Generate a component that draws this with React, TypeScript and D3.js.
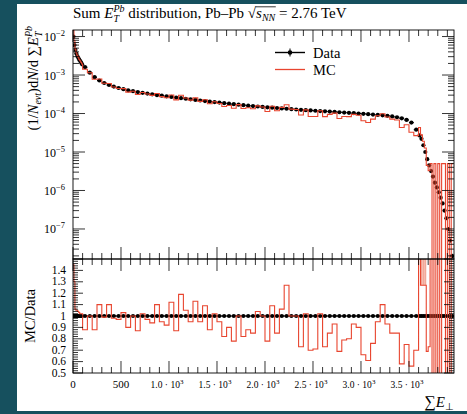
import React, { useRef, useState, useLayoutEffect } from 'react';
import * as d3 from 'd3';

// ---------- data ----------
const binSegments: [number, number, number][] = [
  [0, 100, 10],
  [100, 3600, 50],
  [3600, 3960, 20],
];

const dataLow = [1.0e-2, 6.0e-3, 4.5e-3, 3.6e-3, 3.1e-3, 2.8e-3, 2.5e-3, 2.3e-3, 2.1e-3, 1.9e-3];
const dataMid = [
  1.6e-3, 1.15e-3, 8.8e-4, 7.2e-4, 6.2e-4, 5.5e-4, 5.0e-4, 4.6e-4, 4.3e-4, 4.0e-4,
  3.8e-4, 3.6e-4, 3.45e-4, 3.3e-4, 3.15e-4, 3.0e-4, 2.9e-4, 2.8e-4, 2.7e-4, 2.6e-4,
  2.5e-4, 2.42e-4, 2.34e-4, 2.26e-4, 2.18e-4, 2.1e-4, 2.04e-4, 1.98e-4, 1.92e-4, 1.86e-4,
  1.8e-4, 1.75e-4, 1.7e-4, 1.65e-4, 1.6e-4, 1.56e-4, 1.52e-4, 1.48e-4, 1.45e-4, 1.42e-4,
  1.39e-4, 1.36e-4, 1.33e-4, 1.3e-4, 1.27e-4, 1.25e-4, 1.22e-4, 1.2e-4, 1.18e-4, 1.16e-4,
  1.14e-4, 1.12e-4, 1.1e-4, 1.08e-4, 1.06e-4, 1.04e-4, 1.02e-4, 1.0e-4, 9.8e-5, 9.6e-5,
  9.4e-5, 9.2e-5, 9.0e-5, 8.7e-5, 8.4e-5, 8.0e-5, 7.5e-5, 6.8e-5, 5.8e-5, 3.8e-5,
];
const dataTail = [
  2.7e-5, 2.2e-5, 1.5e-5, 1.0e-5, 6.5e-6, 4.5e-6, 3.2e-6, 2.3e-6, 1.6e-6, 1.2e-6,
  9e-7, 6.5e-7, 4.6e-7, 3e-7, 1.9e-7, 1e-7, 5e-8, 2e-8,
];

// MC / Data ratio
const ratioLow = [1.45, 1.3, 1.06, 1.05, 1.05, 1.04, 1.03, 1.02, 1.02, 1.02];
const ratioMid = [
  0.88, 1.0, 0.88, 1.1, 0.99, 1.1, 0.98, 0.97, 1.03, 0.9,
  1.0, 0.87, 1.02, 0.97, 0.94, 1.1, 0.95, 0.92, 1.12, 0.87,
  1.19, 1.05, 0.95, 1.13, 0.95, 1.09, 0.88, 1.02, 0.95, 0.82,
  0.9, 0.78, 1.0, 0.82, 0.88, 0.85, 1.04, 1.0, 0.78, 1.09,
  0.85, 1.06, 1.27, 1.0, 1.0, 0.73, 1.02, 0.7, 0.71, 1.02,
  0.73, 0.85, 0.93, 0.69, 0.79, 0.8, 0.93, 0.9, 0.66, 0.61,
  0.76, 0.95, 1.1, 0.93, 0.85, 0.85, 0.58, 0.75, 0.56, 0.7,
];
const ratioTail = [1.6, 1.27, 1.27, 1.27, 0.69, 0.73];
// upper MC uncertainty (ratio units) for the first tail bins, drawn as a band
const ratioTailBandTop = [1.6, 1.6, 1.6, 1.6, 0, 0];
// MC values for the last, statistics-starved bins (3720 .. 3960)
const mcTail = [5e-6, 0, 5e-6, 0, 5e-6, 0, 5e-6, 5e-6, 0, 5e-6, 0, 5e-6];

const xMajorTicks = [0, 500, 1000, 1500, 2000, 2500, 3000, 3500];
const xTickLabels = ['0', '500', '1.0', '1.5', '2.0', '2.5', '3.0', '3.5'];
const yDecades = [-7, -6, -5, -4, -3, -2];
const ratioLabels = [0.5, 0.6, 0.7, 0.8, 0.9, 1.0, 1.1, 1.2, 1.3, 1.4];
const ratioLabelText = ['0.5', '0.6', '0.7', '0.8', '0.9', '1', '1.1', '1.2', '1.3', '1.4'];

// ---------- layout ----------
const W = 467, H = 414;
const L = 73, R = 454;
const T = 30, MID = 259, B = 373;
const RED = '#e8452f';
const SERIF = "'Liberation Serif', 'Times New Roman', serif";

export default function App() {
  const sqrtRef = useRef<SVGTSpanElement>(null);
  const nnRef = useRef<SVGTSpanElement>(null);
  const [ovl, setOvl] = useState<{ x1: number; x2: number } | null>(null);

  useLayoutEffect(() => {
    const a = sqrtRef.current, b = nnRef.current;
    if (a && b) {
      try {
        const ea = a.getExtentOfChar(0);
        const n = b.getNumberOfChars();
        const eb = b.getExtentOfChar(n - 1);
        setOvl({ x1: ea.x + ea.width - 0.5, x2: eb.x + eb.width + 0.5 });
      } catch (e) {}
    }
  }, []);

  const edges: number[] = [];
  binSegments.forEach(([a, b, w]) => {
    for (let v = a; v < b - 1e-9; v += w) edges.push(v);
  });
  edges.push(binSegments[binSegments.length - 1][1]);
  const dataVals = [...dataLow, ...dataMid, ...dataTail];
  const ratioVals = [...ratioLow, ...ratioMid, ...ratioTail];
  const nb = dataVals.length;
  const mc = dataVals.map((d, i) => (i < ratioVals.length ? d * ratioVals[i] : mcTail[i - ratioVals.length]));
  const mcRatio = mc.map((m, i) => m / dataVals[i]);
  const tailStart = dataLow.length + dataMid.length;

  const x = d3.scaleLinear().domain([0, 3969]).range([L, R]);
  const yMain = d3.scaleLog().domain([Math.pow(10, -7.78), Math.pow(10, -1.83)]).range([MID, T]);
  const yRat = d3.scaleLinear().domain([0.5, 1.5]).range([B, MID]);

  const yM = (v: number) => (v > 0 ? yMain(v) : MID + 30);
  const yR = (v: number) => Math.max(MID - 30, Math.min(B + 30, yRat(v)));

  let mcPath = '';
  let mcRPath = '';
  for (let i = 0; i < nb; i++) {
    const x0 = x(edges[i]), x1 = x(edges[i + 1]);
    const ym = yM(mc[i]);
    const yr = yR(mcRatio[i]);
    mcPath += (i === 0 ? `M${x0},${ym}` : `V${ym}`) + `H${x1}`;
    mcRPath += (i === 0 ? `M${x0},${yr}` : `V${yr}`) + `H${x1}`;
  }

  // ticks
  const xMinor = d3.range(0, 3969, 100).filter((v) => v % 500 !== 0);
  const yMinor: number[] = [];
  for (let dcd = -8; dcd <= -2; dcd++) {
    for (let k = 2; k <= 9; k++) {
      const v = k * Math.pow(10, dcd);
      if (yMain(v) >= T && yMain(v) <= MID) yMinor.push(v);
    }
  }
  const rMajor = d3.range(0.5, 1.501, 0.1);
  const rMinor = d3.range(0.5, 1.501, 0.02).filter((v) => Math.abs(Math.round(v * 10) - v * 10) > 0.01);

  const MJ = 12, MN = 6;
  const tk = { stroke: '#000', strokeWidth: 0.8 };

  return (
    <svg width={W} height={H} style={{ position: 'absolute', left: 0, top: 0 }} xmlns="http://www.w3.org/2000/svg">
      <defs>
        <clipPath id="clipMain"><rect x={L} y={T} width={R - L} height={MID - T} /></clipPath>
        <clipPath id="clipRat"><rect x={L} y={MID} width={R - L} height={B - MID} /></clipPath>
      </defs>
      <rect x={0} y={0} width={W} height={H} fill="#16505e" />
      <rect x={17} y={4} width={W - 17} height={407} fill="#fff" />

      {/* ---- title ---- */}
      <text x={L} y={18} fontFamily={SERIF} fontSize={15} fill="#000">
        <tspan>Sum </tspan>
        <tspan fontStyle="italic">E</tspan>
        <tspan fontStyle="italic" fontSize={10} dy={4}>T</tspan>
        <tspan fontStyle="italic" fontSize={10} dx={-5.6} dy={-10}>Pb</tspan>
        <tspan dy={6}> distribution, Pb–Pb </tspan>
        <tspan ref={sqrtRef}>√</tspan>
        <tspan fontStyle="italic">s</tspan>
        <tspan ref={nnRef} fontStyle="italic" fontSize={10} dy={3}>NN</tspan>
        <tspan dy={-3}> = 2.76 TeV</tspan>
      </text>
      {ovl && <line x1={ovl.x1} x2={ovl.x2} y1={6.8} y2={6.8} stroke="#000" strokeWidth={0.8} />}

      {/* ---- main panel: data ---- */}
      <g clipPath="url(#clipMain)">
        {dataVals.map((d, i) => (
          <line key={'dl' + i} x1={x(edges[i])} x2={x(edges[i + 1])} y1={yMain(d)} y2={yMain(d)} stroke="#000" strokeWidth={1.2} />
        ))}
        {dataVals.map((d, i) => (
          <circle key={'dc' + i} cx={x((edges[i] + edges[i + 1]) / 2)} cy={yMain(d)} r={2.1} fill="#000" />
        ))}
        <path d={mcPath} fill="none" stroke={RED} strokeWidth={1.1} />
      </g>

      {/* ---- ratio panel ---- */}
      <g clipPath="url(#clipRat)">
        {ratioTailBandTop.map((top, j) =>
          top > 0 ? (
            <rect key={'bd' + j} x={x(edges[tailStart + j])} width={x(edges[tailStart + j + 1]) - x(edges[tailStart + j])}
              y={yR(top)} height={yR(ratioTail[j]) - yR(top)} fill="#f2a898" />
          ) : null
        )}
        {dataVals.map((d, i) => (
          <line key={'rl' + i} x1={x(edges[i])} x2={x(edges[i + 1])} y1={yRat(1)} y2={yRat(1)} stroke="#000" strokeWidth={1.4} />
        ))}
        {dataVals.map((d, i) => (
          <circle key={'rc' + i} cx={x((edges[i] + edges[i + 1]) / 2)} cy={yRat(1)} r={2.1} fill="#000" />
        ))}
        <path d={mcRPath} fill="none" stroke={RED} strokeWidth={1.1} />
      </g>

      {/* ---- frames ---- */}
      <rect x={L} y={T} width={R - L} height={MID - T} fill="none" stroke="#000" strokeWidth={0.9} />
      <rect x={L} y={MID} width={R - L} height={B - MID} fill="none" stroke="#000" strokeWidth={0.9} />

      {/* x ticks */}
      {xMajorTicks.map((v) => (
        <g key={'xM' + v}>
          <line x1={x(v)} x2={x(v)} y1={T} y2={T + MJ} {...tk} />
          <line x1={x(v)} x2={x(v)} y1={MID - MJ} y2={MID + MJ} {...tk} />
          <line x1={x(v)} x2={x(v)} y1={B} y2={B - MJ} {...tk} />
        </g>
      ))}
      {xMinor.map((v) => (
        <g key={'xm' + v}>
          <line x1={x(v)} x2={x(v)} y1={T} y2={T + MN} {...tk} />
          <line x1={x(v)} x2={x(v)} y1={MID - MN} y2={MID + MN} {...tk} />
          <line x1={x(v)} x2={x(v)} y1={B} y2={B - MN} {...tk} />
        </g>
      ))}

      {/* y ticks main */}
      {yDecades.map((p) => {
        const yy = yMain(Math.pow(10, p));
        return (
          <g key={'yM' + p}>
            <line x1={L} x2={L + MJ} y1={yy} y2={yy} {...tk} />
            <line x1={R} x2={R - MJ} y1={yy} y2={yy} {...tk} />
          </g>
        );
      })}
      {yMinor.map((v, i) => {
        const yy = yMain(v);
        return (
          <g key={'ym' + i}>
            <line x1={L} x2={L + MN} y1={yy} y2={yy} {...tk} />
            <line x1={R} x2={R - MN} y1={yy} y2={yy} {...tk} />
          </g>
        );
      })}

      {/* y ticks ratio */}
      {rMajor.map((v, i) => (
        <g key={'rM' + i}>
          <line x1={L} x2={L + 10} y1={yRat(v)} y2={yRat(v)} {...tk} />
          <line x1={R} x2={R - 10} y1={yRat(v)} y2={yRat(v)} {...tk} />
        </g>
      ))}
      {rMinor.map((v, i) => (
        <g key={'rm' + i}>
          <line x1={L} x2={L + 5} y1={yRat(v)} y2={yRat(v)} {...tk} />
          <line x1={R} x2={R - 5} y1={yRat(v)} y2={yRat(v)} {...tk} />
        </g>
      ))}

      {/* y tick labels main */}
      {yDecades.map((p) => (
        <text key={'yl' + p} x={65} y={yMain(Math.pow(10, p)) + 4.5} textAnchor="end" fontFamily={SERIF} fontSize={12}>
          <tspan>10</tspan>
          <tspan fontSize={8.5} dy={-5}>{'−' + Math.abs(p)}</tspan>
        </text>
      ))}

      {/* ratio labels */}
      {ratioLabels.map((v, i) => (
        <text key={'rl' + i} x={66} y={yRat(v) + 3.5} textAnchor="end" fontFamily={SERIF} fontSize={11.5}>
          {ratioLabelText[i]}
        </text>
      ))}

      {/* x tick labels */}
      {xMajorTicks.map((v, i) =>
        v < 1000 ? (
          <text key={'xl' + v} x={x(v)} y={388} textAnchor="middle" fontFamily={SERIF} fontSize={11}>
            {xTickLabels[i]}
          </text>
        ) : (
          <text key={'xl' + v} x={x(v) - 2} y={388} textAnchor="middle" fontFamily={SERIF} fontSize={9.5}>
            <tspan>{xTickLabels[i] + ' · 10'}</tspan>
            <tspan fontSize={7} dy={-4}>3</tspan>
          </text>
        )
      )}

      {/* axis labels */}
      <text x={R} y={407} textAnchor="end" fontFamily={SERIF} fontSize={15}>
        <tspan fontSize={16}>∑</tspan>
        <tspan fontStyle="italic">E</tspan>
        <tspan fontSize={10} dy={3}>⊥</tspan>
      </text>

      <text transform={`translate(38,26) rotate(-90)`} textAnchor="end" fontFamily={SERIF} fontSize={14.5}>
        <tspan>(1/</tspan>
        <tspan fontStyle="italic">N</tspan>
        <tspan fontStyle="italic" fontSize={10} dy={3}>evt</tspan>
        <tspan dy={-3}>)d</tspan>
        <tspan fontStyle="italic">N</tspan>
        <tspan>/d ∑</tspan>
        <tspan fontStyle="italic">E</tspan>
        <tspan fontStyle="italic" fontSize={10} dy={4}>T</tspan>
        <tspan fontStyle="italic" fontSize={10} dx={-5.6} dy={-10}>Pb</tspan>
      </text>

      <text transform={`translate(35,${yRat(1)}) rotate(-90)`} textAnchor="middle" fontFamily={SERIF} fontSize={14.5}>
        MC/Data
      </text>

      {/* legend */}
      <line x1={275} x2={305} y1={52.5} y2={52.5} stroke="#000" strokeWidth={1.4} />
      <line x1={290} x2={290} y1={48.5} y2={56.5} stroke="#000" strokeWidth={1} />
      <circle cx={290} cy={52.5} r={2.3} fill="#000" />
      <text x={313} y={57.5} fontFamily={SERIF} fontSize={14.5}>Data</text>
      <line x1={275} x2={305} y1={69.5} y2={69.5} stroke={RED} strokeWidth={1.3} />
      <text x={313} y={74.5} fontFamily={SERIF} fontSize={14.5}>MC</text>
    </svg>
  );
}
